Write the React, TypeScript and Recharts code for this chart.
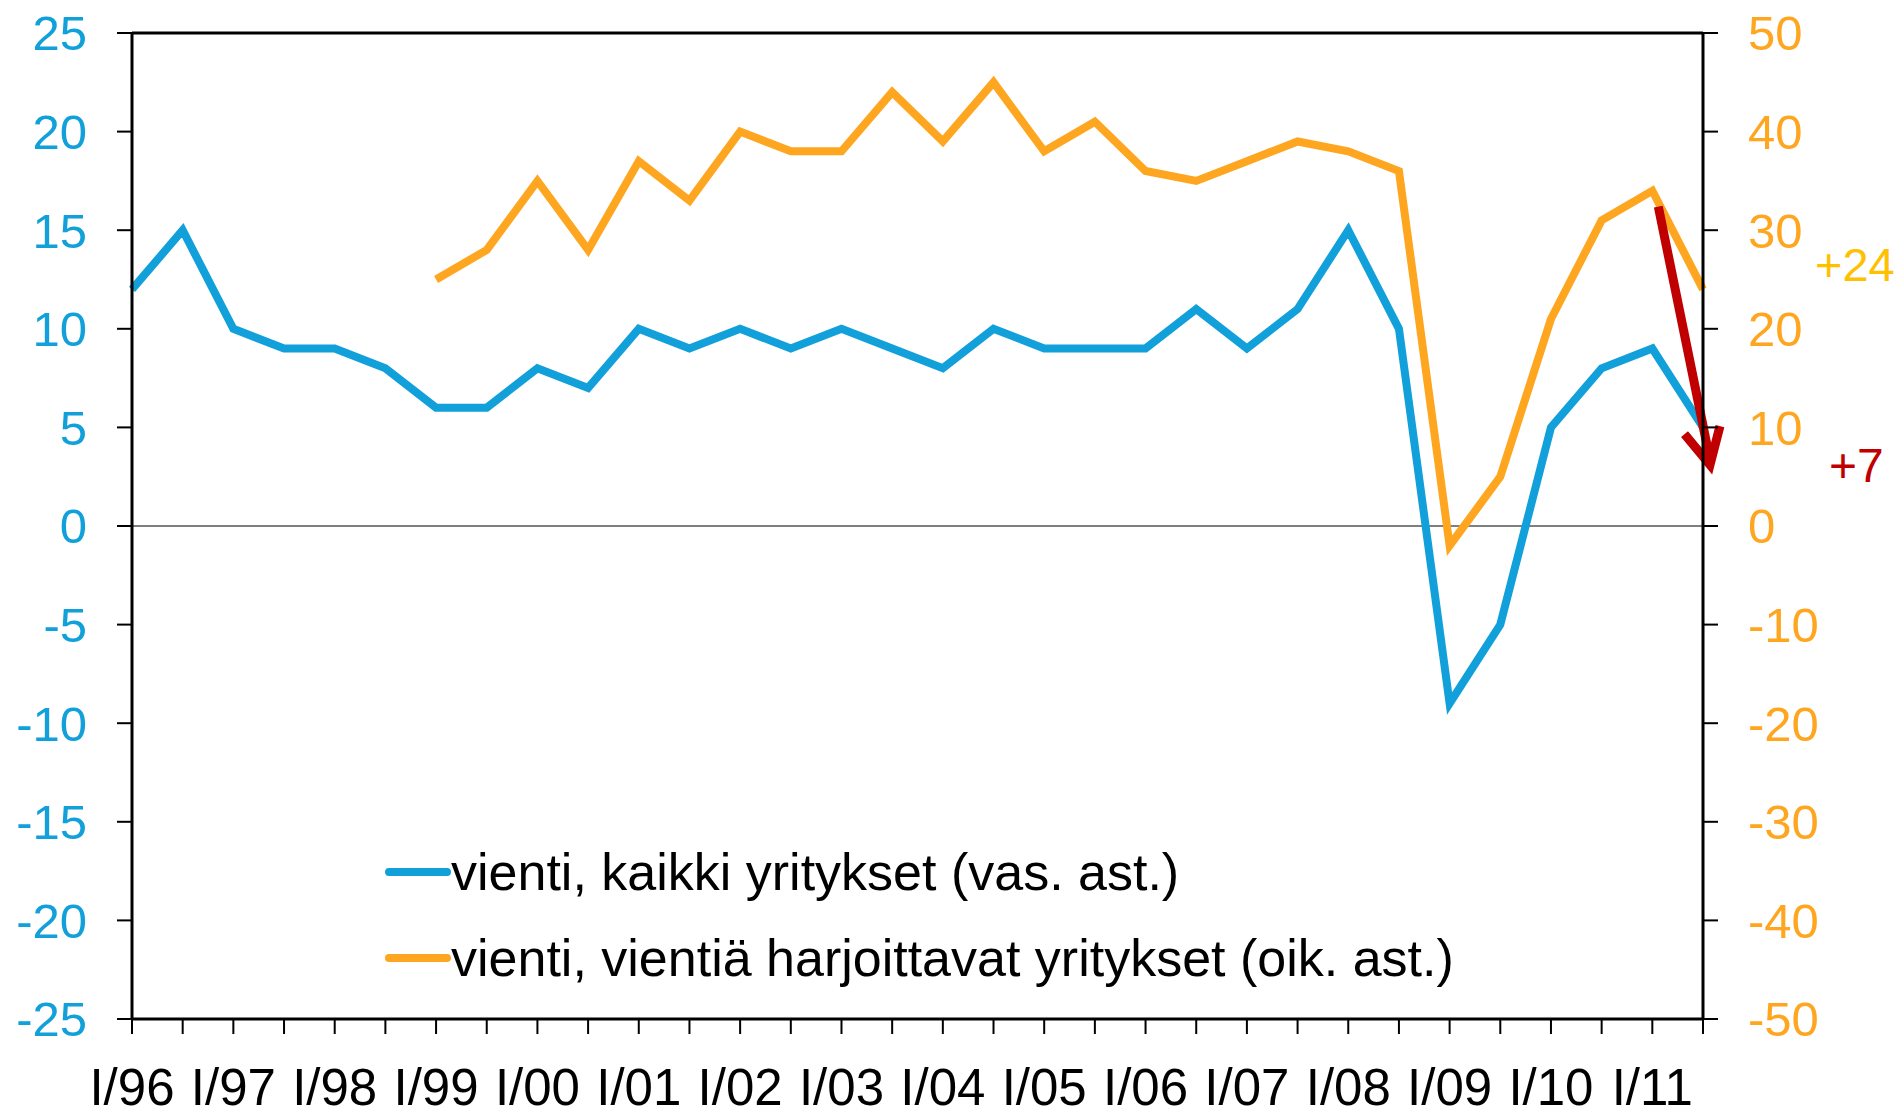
import React from 'react';
import {
  LineChart,
  Line,
  XAxis,
  YAxis,
  ReferenceLine,
  Legend
} from 'recharts';

const periods = [
  'I/96', 'II/96', 'I/97', 'II/97', 'I/98', 'II/98', 'I/99', 'II/99',
  'I/00', 'II/00', 'I/01', 'II/01', 'I/02', 'II/02', 'I/03', 'II/03',
  'I/04', 'II/04', 'I/05', 'II/05', 'I/06', 'II/06', 'I/07', 'II/07',
  'I/08', 'II/08', 'I/09', 'II/09', 'I/10', 'II/10', 'I/11', 'II/11'
];

// vienti, kaikki yritykset (left axis)
const kaikki = [
  12, 15, 10, 9, 9, 8, 6, 6,
  8, 7, 10, 9, 10, 9, 10, 9,
  8, 10, 9, 9, 9, 11, 9, 11,
  15, 10, -9, -5, 5, 8, 9, 5
];

// vienti, vientiä harjoittavat yritykset (right axis)
const vientia: (number | null)[] = [
  null, null, null, null, null, null, 25, 28,
  35, 28, 37, 33, 40, 38, 38, 44,
  39, 45, 38, 41, 36, 35, 37, 39,
  38, 36, -2, 5, 21, 31, 34, 24
];

const leftTicks = [-25, -20, -15, -10, -5, 0, 5, 10, 15, 20, 25];
const rightTicks = [-50, -40, -30, -20, -10, 0, 10, 20, 30, 40, 50];

// red arrow annotation, in left-axis units
const arrowFrom = { x: 'I/11', y: 16.2 };
const arrowTo = { x: 'II/11', y: 3.1 };

const BLUE = '#12A0DA';
const ORANGE = '#FFA621';
const RED = '#C00000';
const FONT = '"Liberation Sans", Arial, sans-serif';

const data = periods.map((p, i) => ({
  period: p,
  kaikki: kaikki[i],
  vientia: vientia[i]
}));

const XTick = (props: any) => {
  const { x, y, payload } = props;
  if (!/^I\//.test(payload.value)) return <g />;
  return (
    <text x={x} y={y} dy={71} textAnchor="middle" fontSize={51} fill="#000" fontFamily={FONT}>
      {payload.value}
    </text>
  );
};

const ArrowShape = (props: any) => {
  const { x1, y1, x2, y2 } = props;
  const tipX = x2 + 7;
  const tipY = y2;
  const ang = Math.atan2(y1 - tipY, x1 - tipX);
  const spread = (27 * Math.PI) / 180;
  const len = 40;
  const w1x = tipX + len * Math.cos(ang - spread);
  const w1y = tipY + len * Math.sin(ang - spread);
  const w2x = tipX + len * Math.cos(ang + spread);
  const w2y = tipY + len * Math.sin(ang + spread);
  return (
    <g>
      <line x1={x1 + 6} y1={y1} x2={tipX} y2={tipY - 5} stroke={RED} strokeWidth={9} />
      <polyline
        points={`${w1x},${w1y} ${tipX},${tipY} ${w2x},${w2y}`}
        fill="none"
        stroke={RED}
        strokeWidth={9}
        strokeLinejoin="miter"
      />
    </g>
  );
};

const legendItems = [
  { name: 'vienti, kaikki yritykset (vas. ast.)', color: BLUE },
  { name: 'vienti, vientiä harjoittavat yritykset (oik. ast.)', color: ORANGE }
];

const LegendContent = () => (
  <div style={{ fontFamily: FONT, fontSize: 52, color: '#000' }}>
    {legendItems.map((item) => (
      <div key={item.name} style={{ display: 'flex', alignItems: 'center', height: 86, whiteSpace: 'nowrap' }}>
        <svg width={66} height={12}>
          <line x1={4} y1={6} x2={62} y2={6} stroke={item.color} strokeWidth={8} strokeLinecap="round" />
        </svg>
        <span>{item.name}</span>
      </div>
    ))}
  </div>
);

export default function App() {
  return (
    <div style={{ position: 'absolute', left: 0, top: 0, width: 1903, height: 1118, background: '#fff' }}>
      <LineChart
        width={1903}
        height={1118}
        data={data}
        margin={{ top: 33, right: 0, bottom: 0, left: 0 }}
      >
        <XAxis
          dataKey="period"
          interval={0}
          height={99}
          tick={<XTick />}
          tickSize={15}
          tickMargin={0}
          axisLine={{ stroke: '#000', strokeWidth: 3 }}
          tickLine={{ stroke: '#000', strokeWidth: 2 }}
        />
        <YAxis
          yAxisId="left"
          domain={[-25, 25]}
          ticks={leftTicks}
          width={132}
          tickSize={15}
          tickMargin={30}
          axisLine={{ stroke: '#000', strokeWidth: 3 }}
          tickLine={{ stroke: '#000', strokeWidth: 2 }}
          tick={{ fill: BLUE, fontSize: 49, fontFamily: FONT }}
        />
        <YAxis
          yAxisId="right"
          orientation="right"
          domain={[-50, 50]}
          ticks={rightTicks}
          width={200}
          tickSize={15}
          tickMargin={30}
          axisLine={{ stroke: '#000', strokeWidth: 3 }}
          tickLine={{ stroke: '#000', strokeWidth: 2 }}
          tick={{ fill: ORANGE, fontSize: 49, fontFamily: FONT, textAnchor: 'start' }}
        />
        <ReferenceLine yAxisId="left" y={25} stroke="#000" strokeWidth={3} />
        <ReferenceLine yAxisId="left" y={0} stroke="#555" strokeWidth={1.5} />
        <Line
          yAxisId="left"
          dataKey="kaikki"
          stroke={BLUE}
          strokeWidth={8}
          dot={false}
          isAnimationActive={false}
        />
        <Line
          yAxisId="right"
          dataKey="vientia"
          stroke={ORANGE}
          strokeWidth={8}
          dot={false}
          isAnimationActive={false}
        />
        <ReferenceLine
          yAxisId="left"
          segment={[arrowFrom, arrowTo]}
          ifOverflow="visible"
          shape={<ArrowShape />}
        />
        <Legend
          layout="vertical"
          align="center"
          verticalAlign="middle"
          content={<LegendContent />}
          wrapperStyle={{ left: 385, top: 829, width: 'auto' }}
        />
      </LineChart>
      <div style={{ position: 'absolute', left: 1815, top: 237, fontFamily: FONT, fontSize: 47, color: '#FFC000' }}>
        +24
      </div>
      <div style={{ position: 'absolute', left: 1829, top: 438, fontFamily: FONT, fontSize: 48, color: RED }}>
        +7
      </div>
    </div>
  );
}
